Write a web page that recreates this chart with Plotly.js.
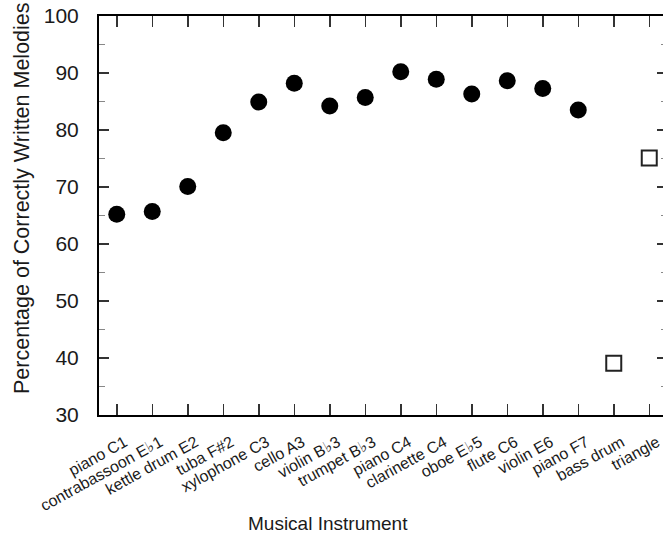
<!DOCTYPE html>
<html>
<head>
<meta charset="utf-8">
<script src="https://cdn.plot.ly/plotly-3.0.1.min.js"></script>
<style>
html, body { margin: 0; padding: 0; overflow: hidden; background: #fff; width: 663px; height: 542px; }
#chart { width: 668px; height: 542px; }
</style>
</head>
<body>
<div id="chart"></div>
<script>
const instruments = [
  "piano C1", "contrabassoon E\u266D1", "kettle drum E2", "tuba F#2", "xylophone C3",
  "cello A3", "violin B\u266D3", "trumpet B\u266D3", "piano C4", "clarinette C4",
  "oboe E\u266D5", "flute C6", "violin E6", "piano F7", "bass drum", "triangle"
];
const pitchedInstruments = instruments.slice(0, 14);
const pitchedValues = [65.2, 65.7, 70.1, 79.5, 84.9, 88.2, 84.2, 85.7, 90.2, 88.9, 86.3, 88.65, 87.3, 83.5];
const unpitchedInstruments = ["bass drum", "triangle"];
const unpitchedValues = [39.1, 75.1];
const yTickValues = [30, 40, 50, 60, 70, 80, 90, 100];

const fontFamily = '"Liberation Sans", Arial, Helvetica, sans-serif';

const traces = [
  {
    type: 'scatter', mode: 'markers',
    x: pitchedInstruments, y: pitchedValues,
    marker: { symbol: 'circle', size: 17, color: '#000' },
    hoverinfo: 'x+y'
  },
  {
    type: 'scatter', mode: 'markers',
    x: unpitchedInstruments, y: unpitchedValues,
    marker: { symbol: 'square-open', size: 15, color: '#222', line: { width: 2, color: '#222' } },
    hoverinfo: 'x+y'
  }
];

const layout = {
  width: 668, height: 542,
  margin: { l: 99, r: 1, t: 16, b: 127 },
  paper_bgcolor: '#fff', plot_bgcolor: '#fff',
  showlegend: false,
  font: { family: fontFamily, color: '#1a1a1a' },
  xaxis: {
    type: 'category',
    categoryorder: 'array', categoryarray: instruments,
    range: [-0.5, 15.5],
    showgrid: false, zeroline: false,
    showline: true, linecolor: '#000', linewidth: 2, mirror: 'ticks',
    ticks: 'inside', ticklen: 11, tickwidth: 1.5, tickcolor: '#333',
    tickangle: -29,
    ticklabelstandoff: 10,
    ticklabelshift: 8,
    tickfont: { size: 16, family: fontFamily, color: '#1a1a1a' }
  },
  yaxis: {
    range: [30, 100],
    tickvals: yTickValues,
    showgrid: false, zeroline: false,
    showline: true, linecolor: '#000', linewidth: 2, mirror: 'ticks',
    ticks: 'inside', ticklen: 10, tickwidth: 1.5, tickcolor: '#333',
    minor: { dtick: 5, ticks: 'inside', ticklen: 6, tickwidth: 1, tickcolor: '#888', showgrid: false },
    tickfont: { size: 21, family: fontFamily, color: '#1a1a1a' },
    ticklabelstandoff: 14
  },
  annotations: [
    {
      text: 'Percentage of Correctly Written Melodies',
      xref: 'paper', yref: 'paper',
      x: (22 - 99) / 568, y: (415 - 198) / 399,
      xanchor: 'center', yanchor: 'middle',
      textangle: -90, showarrow: false,
      font: { size: 21.5, family: fontFamily, color: '#1a1a1a' }
    },
    {
      text: 'Musical Instrument',
      xref: 'paper', yref: 'paper',
      x: (328 - 99) / 568, y: (415 - 523) / 399,
      xanchor: 'center', yanchor: 'middle',
      showarrow: false,
      font: { size: 19, family: fontFamily, color: '#1a1a1a' }
    }
  ]
};

Plotly.newPlot('chart', traces, layout, { displayModeBar: false, responsive: false, staticPlot: true });
</script>
</body>
</html>
